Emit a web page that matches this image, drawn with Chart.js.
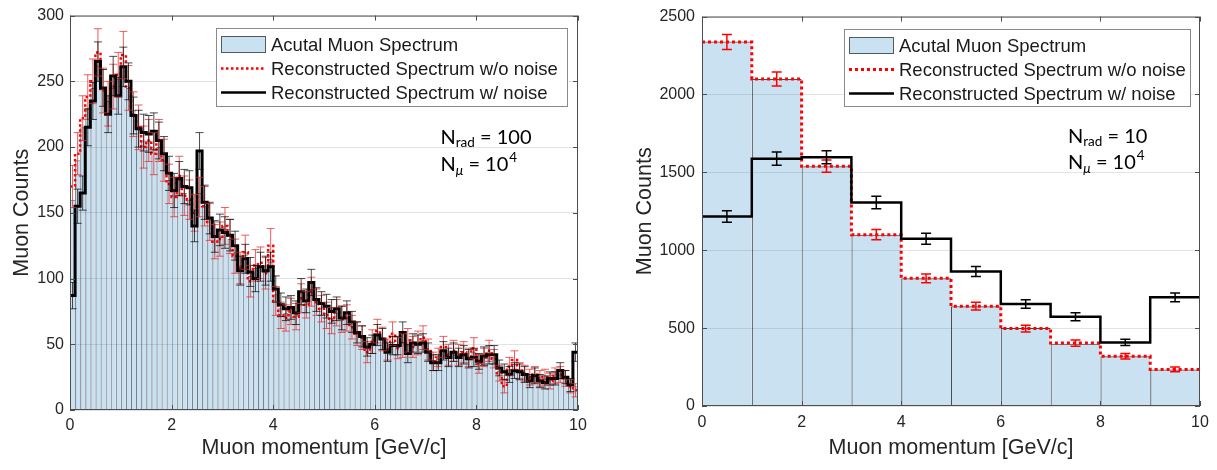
<!DOCTYPE html>
<html><head><meta charset="utf-8">
<script src="https://cdn.jsdelivr.net/npm/chart.js@4.4.1/dist/chart.umd.min.js"></script>
<style>
html,body{margin:0;padding:0;background:#fff;width:1217px;height:470px;overflow:hidden}
#l{position:absolute;left:0;top:0}
#r{position:absolute;left:610px;top:0}
</style></head><body>
<canvas id="l" width="600" height="470"></canvas>
<canvas id="r" width="607" height="470"></canvas>
<script>
// ---------- data ----------
const momentumRange = [0, 10];
const xTickLabels = [0, 2, 4, 6, 8, 10];
const leftYTicks = [0, 50, 100, 150, 200, 250, 300];
const rightYTicks = [0, 500, 1000, 1500, 2000, 2500];
const legendLabels = ['Acutal Muon Spectrum', 'Reconstructed Spectrum w/o noise', 'Reconstructed Spectrum w/ noise'];
const xTitle = 'Muon momentum [GeV/c]';
const yTitle = 'Muon Counts';

// left panel: 100 bins
const leftActual = [160,190,215,230,245,262,245,235,245,252,
 262,245,228,215,205,205,198,200,190,175,
 168,175,165,160,150,165,155,145,132,132,
 138,130,120,110,118,102,108,110,105,115,
 88,78,74,77,73,86,81,92,83,78,
 74,70,74,69,70,64,59,55,47,51,
 58,54,46,52,48,52,50,49,50,53,
 45,38,39,46,41,44,42,43,40,44,
 36,40,43,40,30,24,31,35,30,28,
 25,27,24,24,23,25,27,24,20,18];
const leftNoNoise = [170,195,222,238,250,272,243,233,246,255,
 270,245,225,215,200,205,195,205,190,172,
 162,178,163,160,150,162,155,143,128,130,
 140,132,117,108,120,98,110,112,104,125,
 83,72,70,75,71,85,80,90,82,77,
 72,68,74,69,70,63,58,55,44,52,
 60,54,46,58,47,49,53,48,51,55,
 46,37,40,48,42,45,42,44,40,47,
 35,40,45,39,28,18,33,38,30,28,
 25,27,24,25,22,26,27,24,18,15];
const leftNoNoiseErr = [16,16,17,17,17,18,17,17,17,17,
 18,17,17,17,16,16,16,16,16,15,
 15,15,15,15,14,15,15,14,13,13,
 14,13,13,12,13,12,12,12,12,13,
 11,10,10,10,10,11,10,11,10,10,
 10,10,10,10,10,9,9,9,8,9,
 9,9,8,9,8,9,9,8,9,9,
 8,7,7,8,8,8,8,8,7,8,
 7,7,8,7,6,5,7,7,6,6,
 6,6,6,6,6,6,6,6,5,5];
const leftNoise = [87,155,165,215,235,265,245,225,254,239,
 261,250,224,214,211,210,212,205,195,180,
 167,176,170,169,140,197,158,146,132,137,
 135,133,125,106,115,105,100,109,106,109,
 92,80,77,78,74,90,83,97,84,81,
 79,75,77,70,74,67,59,56,48,50,
 57,54,44,49,49,59,43,51,50,51,
 44,36,36,45,40,44,40,42,39,40,
 37,41,42,42,32,29,27,30,29,27,
 22,26,22,21,24,24,30,25,19,44];
const leftNoiseErr = [10,13,13,14,14,15,14,14,15,14,
 15,14,14,14,14,14,14,14,13,13,
 13,13,13,13,12,14,13,12,12,12,
 12,12,11,11,11,11,10,11,11,11,
 10,9,9,9,9,10,9,10,9,9,
 9,9,9,9,9,8,8,8,7,7,
 8,8,7,7,7,8,7,7,7,7,
 7,6,6,7,7,7,7,7,7,7,
 6,7,7,7,6,6,6,6,6,6,
 5,6,5,5,5,5,6,5,5,7];

// right panel: 10 bins
const rightActual = [2340,2100,1540,1100,820,640,500,400,320,235];
const rightNoNoise = [2337,2100,1540,1100,820,641,497,404,319,235];
const rightNoNoiseErr = [48,45,40,33,28,25,22,20,18,15];
const rightNoise = [1216,1588,1597,1307,1074,863,655,573,408,698];
const rightNoiseErr = [37,42,42,40,35,32,27,25,20,28];

// ---------- drawing ----------
const FONT = '"Liberation Sans", Arial, sans-serif';
const BAR_FILL = 'rgba(0,114,189,0.21)';
const TEXT = '#262626';

function makeChart(id, p) {
  const n = p.actual.length;
  const w = (p.range[1] - p.range[0]) / n;
  const centers = p.actual.map((_, i) => p.range[0] + w * (i + 0.5));
  const edges = p.actual.map((_, i) => p.range[0] + w * i).concat([p.range[1]]);
  const stepData = vals => edges.map((x, i) => ({x, y: vals[Math.min(i, n - 1)]}));

  const extras = {
    id: 'extras',
    afterDatasetsDraw(chart) {
      const {ctx, chartArea: a} = chart;
      const xs = chart.scales.x, ys = chart.scales.y;
      ctx.save();
      ctx.beginPath(); ctx.rect(a.left, a.top, a.right - a.left, a.bottom - a.top); ctx.clip();
      p.errors.forEach(e => {
        ctx.strokeStyle = e.color; ctx.lineWidth = e.width; ctx.setLineDash([]);
        e.values.forEach((v, i) => {
          const px = xs.getPixelForValue(centers[i]);
          const lo = ys.getPixelForValue(v - e.err[i]);
          const hi = ys.getPixelForValue(v + e.err[i]);
          ctx.beginPath();
          ctx.moveTo(px, lo); ctx.lineTo(px, hi);
          ctx.moveTo(px - e.cap, lo); ctx.lineTo(px + e.cap, lo);
          ctx.moveTo(px - e.cap, hi); ctx.lineTo(px + e.cap, hi);
          ctx.stroke();
        });
      });
      ctx.restore();
    },
    afterDraw(chart) {
      const {ctx, chartArea: a} = chart;
      const xs = chart.scales.x, ys = chart.scales.y;
      ctx.save();
      // frame
      ctx.strokeStyle = '#4d4d4d'; ctx.lineWidth = 1;
      ctx.strokeRect(a.left + 0.5, a.top + 0.5, a.right - a.left - 1, a.bottom - a.top - 1);
      // inward ticks
      ctx.beginPath();
      xs.ticks.forEach(t => {
        const px = Math.round(xs.getPixelForValue(t.value)) + 0.5;
        ctx.moveTo(px, a.bottom); ctx.lineTo(px, a.bottom - 5);
        ctx.moveTo(px, a.top); ctx.lineTo(px, a.top + 5);
      });
      ys.ticks.forEach(t => {
        const py = Math.round(ys.getPixelForValue(t.value)) + 0.5;
        ctx.moveTo(a.left, py); ctx.lineTo(a.left + 5, py);
        ctx.moveTo(a.right, py); ctx.lineTo(a.right - 5, py);
      });
      ctx.stroke();

      // legend box
      const L = p.legend;
      const lx = Math.round(a.right - L.right - L.w), ly = Math.round(a.top + L.top);
      ctx.fillStyle = '#fff'; ctx.fillRect(lx, ly, L.w, L.h);
      ctx.strokeStyle = '#8a8a8a'; ctx.strokeRect(lx + 0.5, ly + 0.5, L.w, L.h);
      const rows = [16.5, 40.5, 64.5].map(r => ly + r);
      ctx.fillStyle = BAR_FILL; ctx.fillRect(lx + 5, rows[0] - 8.5, 45, 17);
      ctx.strokeStyle = 'rgba(0,0,0,0.6)'; ctx.strokeRect(lx + 5.5, rows[0] - 8, 44, 16);
      ctx.lineWidth = p.redWidth; ctx.strokeStyle = '#ff0000'; ctx.setLineDash(p.redDash);
      ctx.beginPath(); ctx.moveTo(lx + 5, rows[1]); ctx.lineTo(lx + 50, rows[1]); ctx.stroke();
      ctx.setLineDash([]); ctx.lineWidth = 2.5; ctx.strokeStyle = '#000';
      ctx.beginPath(); ctx.moveTo(lx + 5, rows[2]); ctx.lineTo(lx + 50, rows[2]); ctx.stroke();
      ctx.fillStyle = '#1a1a1a'; ctx.font = '18.5px ' + FONT; ctx.textBaseline = 'middle'; ctx.textAlign = 'left';
      legendLabels.forEach((t, i) => ctx.fillText(t, lx + 55, rows[i] + 1));

      // annotation
      const nx = a.left + p.note.dx, ny1 = a.top + p.note.dy1, ny2 = a.top + p.note.dy2;
      const big = '20px Lato, "Open Sans", sans-serif', small = '13.5px Lato, "Open Sans", sans-serif';
      ctx.fillStyle = '#000'; ctx.textBaseline = 'middle';
      let cx = nx;
      ctx.font = big; ctx.fillText('N', cx, ny1); cx += ctx.measureText('N').width;
      ctx.font = small; ctx.fillText('rad', cx, ny1 + 6); cx += ctx.measureText('rad').width;
      ctx.font = big; ctx.fillText(' = ' + p.note.rad, cx, ny1);
      cx = nx;
      ctx.font = big; ctx.fillText('N', cx, ny2); cx += ctx.measureText('N').width;
      ctx.font = 'italic ' + small; ctx.fillText('\u03bc', cx, ny2 + 6); cx += ctx.measureText('\u03bc').width;
      ctx.font = big; ctx.fillText(' = 10', cx, ny2); cx += ctx.measureText(' = 10').width;
      ctx.font = small; ctx.fillText('4', cx + 1, ny2 - 7);
      ctx.restore();
    }
  };

  return new Chart(document.getElementById(id), {
    type: 'bar',
    data: {
      datasets: [
        {type: 'line', label: legendLabels[2], data: stepData(p.noise), stepped: 'before',
         borderColor: '#000', borderWidth: p.blackWidth, pointRadius: 0, fill: false, order: 1},
        {type: 'line', label: legendLabels[1], data: stepData(p.noNoise), stepped: 'before',
         borderColor: '#ff0000', borderWidth: p.redWidth, borderDash: p.redDash, pointRadius: 0, fill: false, order: 2},
        {type: 'bar', label: legendLabels[0], data: centers.map((x, i) => ({x, y: p.actual[i]})),
         backgroundColor: BAR_FILL, borderColor: p.barEdge, borderWidth: {left: 1, top: 1, right: 0, bottom: 0},
         barPercentage: 1, categoryPercentage: 1, grouped: false, inflateAmount: 0, order: 3}
      ]
    },
    options: {
      responsive: false, animation: false, devicePixelRatio: 1,
      layout: {padding: p.pad},
      plugins: {legend: {display: false}, tooltip: {enabled: false}},
      scales: {
        x: {type: 'linear', min: p.range[0], max: p.range[1], offset: false,
            afterBuildTicks: s => { s.ticks = xTickLabels.map(v => ({value: v})); },
            afterFit: s => { s.height = p.xH; },
            grid: {display: false}, border: {display: false},
            ticks: {font: {family: FONT, size: 16}, color: TEXT, padding: p.xTickPad, maxRotation: 0, autoSkip: false,
                    callback: v => String(v)},
            title: {display: true, text: xTitle, color: TEXT, font: {family: FONT, size: 21.5}, padding: {top: 0, bottom: 9}}},
        y: {type: 'linear', min: p.yTicks[0], max: p.yTicks[p.yTicks.length - 1],
            afterBuildTicks: s => { s.ticks = p.yTicks.map(v => ({value: v})); },
            afterFit: s => { s.width = p.yW; },
            grid: {color: '#e3e3e3', drawTicks: false}, border: {display: false},
            ticks: {font: {family: FONT, size: 16}, color: TEXT, padding: p.yTickPad, autoSkip: false,
                    callback: v => String(v)},
            title: {display: true, text: yTitle, color: TEXT, font: {family: FONT, size: 21.5}, padding: {top: p.yTitlePad, bottom: 0}}}
      }
    },
    plugins: [extras]
  });
}

makeChart('l', {
  range: momentumRange, actual: leftActual, noNoise: leftNoNoise, noise: leftNoise,
  yTicks: leftYTicks, pad: {top: 10, right: 22, left: 0, bottom: 0}, xH: 60, yW: 70, yTitlePad: 9,
  xTickPad: -2, yTickPad: 6,
  barEdge: 'rgba(20,30,40,0.6)', blackWidth: 3, redWidth: 2.5, redDash: [2.5, 2.5],
  errors: [
    {values: leftNoNoise, err: leftNoNoiseErr, color: 'rgba(235,40,40,0.75)', width: 1, cap: 4},
    {values: leftNoise, err: leftNoiseErr, color: 'rgba(0,0,0,0.7)', width: 1, cap: 4}
  ],
  legend: {right: 11, top: 12.5, w: 351, h: 78},
  note: {dx: 370.5, dy1: 121.5, dy2: 149, rad: '100'}
});

makeChart('r', {
  range: momentumRange, actual: rightActual, noNoise: rightNoNoise, noise: rightNoise,
  yTicks: rightYTicks, pad: {top: 12, right: 17, left: 0, bottom: 0}, xH: 64, yW: 92, yTitlePad: 22,
  xTickPad: -1, yTickPad: 7,
  barEdge: 'rgba(0,0,0,0.7)', blackWidth: 2.5, redWidth: 3, redDash: [3, 3],
  errors: [
    {values: rightNoNoise, err: rightNoNoiseErr, color: '#ff0000', width: 1.5, cap: 5},
    {values: rightNoise, err: rightNoiseErr, color: '#000', width: 1.5, cap: 5}
  ],
  legend: {right: 10, top: 12, w: 346, h: 77},
  note: {dx: 366, dy1: 119.5, dy2: 146, rad: '10'}
});
</script>
</body></html>
